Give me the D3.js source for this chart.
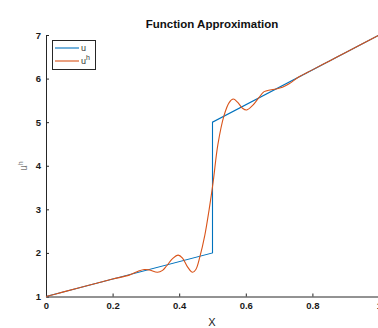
<!DOCTYPE html>
<html>
<head>
<meta charset="utf-8">
<script src="https://cdn.jsdelivr.net/npm/d3@7"></script>
<style>
  html, body { margin: 0; padding: 0; background: #fff; }
  svg { display: block; }
  text { font-family: "Liberation Sans", Arial, sans-serif; }
</style>
</head>
<body>
<svg id="chart" width="378" height="328"></svg>
<script>
// Exact piecewise function u(x): jump at x = 0.5
const uX = [0, 0.5, 0.5, 1];
const uY = [1, 2, 5, 7];

// Approximation u^h(x) with oscillations around the discontinuity
const uhX = [0, 0.05, 0.10, 0.15, 0.20, 0.25, 0.28, 0.295, 0.31, 0.335, 0.35, 0.362, 0.38, 0.397, 0.41, 0.425,
             0.44, 0.45, 0.462, 0.477, 0.49, 0.502, 0.516, 0.535, 0.55, 0.5625, 0.575, 0.59, 0.603, 0.62,
             0.638, 0.655, 0.673, 0.69, 0.71, 0.73, 0.76, 0.80, 0.85, 0.90, 0.95, 1.0];
const uhY = [1.00, 1.10, 1.20, 1.30, 1.40, 1.49, 1.59, 1.62, 1.61, 1.555, 1.60, 1.70, 1.87, 1.95, 1.88, 1.68,
             1.555, 1.62, 1.91, 2.41, 3.00, 3.63, 4.48, 5.16, 5.45, 5.53, 5.46, 5.32, 5.28, 5.38,
             5.55, 5.70, 5.74, 5.76, 5.80, 5.88, 6.04, 6.20, 6.40, 6.60, 6.80, 7.00];

const xTicks = [0, 0.2, 0.4, 0.6, 0.8, 1];
const yTicks = [1, 2, 3, 4, 5, 6, 7];

const blue = "#0072BD", orange = "#D95319", axisColor = "#262626";

const svg = d3.select("#chart");
const x = d3.scaleLinear().domain([0, 1]).range([46, 379]);
const y = d3.scaleLinear().domain([1, 7]).range([296.5, 35]);

// Axes (MATLAB-style, ticks pointing inward, no box)
const xAxis = d3.axisBottom(x).tickValues(xTicks).tickFormat(d3.format("")).tickSizeInner(-3).tickSizeOuter(0).tickPadding(6);
const yAxis = d3.axisLeft(y).tickValues(yTicks).tickFormat(d3.format("d")).tickSizeInner(-3).tickSizeOuter(0).tickPadding(5);

const gx = svg.append("g").attr("transform", `translate(0,${y(1)})`).call(xAxis);
const gy = svg.append("g").attr("transform", `translate(${x(0)},0)`).call(yAxis);
[gx, gy].forEach(g => {
  g.select(".domain").attr("stroke", axisColor).attr("stroke-width", 1);
  g.selectAll(".tick line").attr("stroke", axisColor);
  g.selectAll(".tick text").attr("fill", "#1a1a1a").attr("font-size", 9.5).attr("font-weight", "bold")
    .attr("font-family", "'Liberation Sans', Arial, sans-serif");
});

// Curves
const line = d3.line().x(d => x(d[0])).y(d => y(d[1]));
const smooth = d3.line().x(d => x(d[0])).y(d => y(d[1])).curve(d3.curveCatmullRom.alpha(0.5));

svg.append("path").datum(d3.zip(uX, uY)).attr("d", line)
  .attr("fill", "none").attr("stroke", blue).attr("stroke-width", 1.1);
svg.append("path").datum(d3.zip(uhX, uhY)).attr("d", smooth)
  .attr("fill", "none").attr("stroke", orange).attr("stroke-width", 1.1);

// Title and axis labels
svg.append("text").attr("x", 212).attr("y", 28).attr("text-anchor", "middle")
  .attr("font-size", 11.5).attr("font-weight", "bold").attr("fill", "#111").text("Function Approximation");
svg.append("text").attr("x", 212).attr("y", 326).attr("text-anchor", "middle")
  .attr("font-size", 11).attr("fill", "#1a1a1a").text("X");
const yl = svg.append("text").attr("transform", "translate(27,166) rotate(-90)").attr("text-anchor", "middle")
  .attr("font-size", 10).attr("fill", "#777");
yl.append("tspan").text("u");
yl.append("tspan").attr("dy", -4).attr("font-size", 7).text("h");

// Legend
const lg = svg.append("g");
lg.append("rect").attr("x", 52.5).attr("y", 40.5).attr("width", 43).attr("height", 29)
  .attr("fill", "#fff").attr("stroke", axisColor).attr("stroke-width", 1);
lg.append("line").attr("x1", 55).attr("x2", 79).attr("y1", 48).attr("y2", 48).attr("stroke", blue).attr("stroke-width", 1.1);
lg.append("line").attr("x1", 55).attr("x2", 79).attr("y1", 61).attr("y2", 61).attr("stroke", orange).attr("stroke-width", 1.1);
lg.append("text").attr("x", 81).attr("y", 51).attr("font-size", 9).attr("fill", "#333").text("u");
const lt = lg.append("text").attr("x", 81).attr("y", 64).attr("font-size", 9).attr("fill", "#333");
lt.append("tspan").text("u");
lt.append("tspan").attr("dy", -4).attr("font-size", 7).text("h");
</script>
</body>
</html>
